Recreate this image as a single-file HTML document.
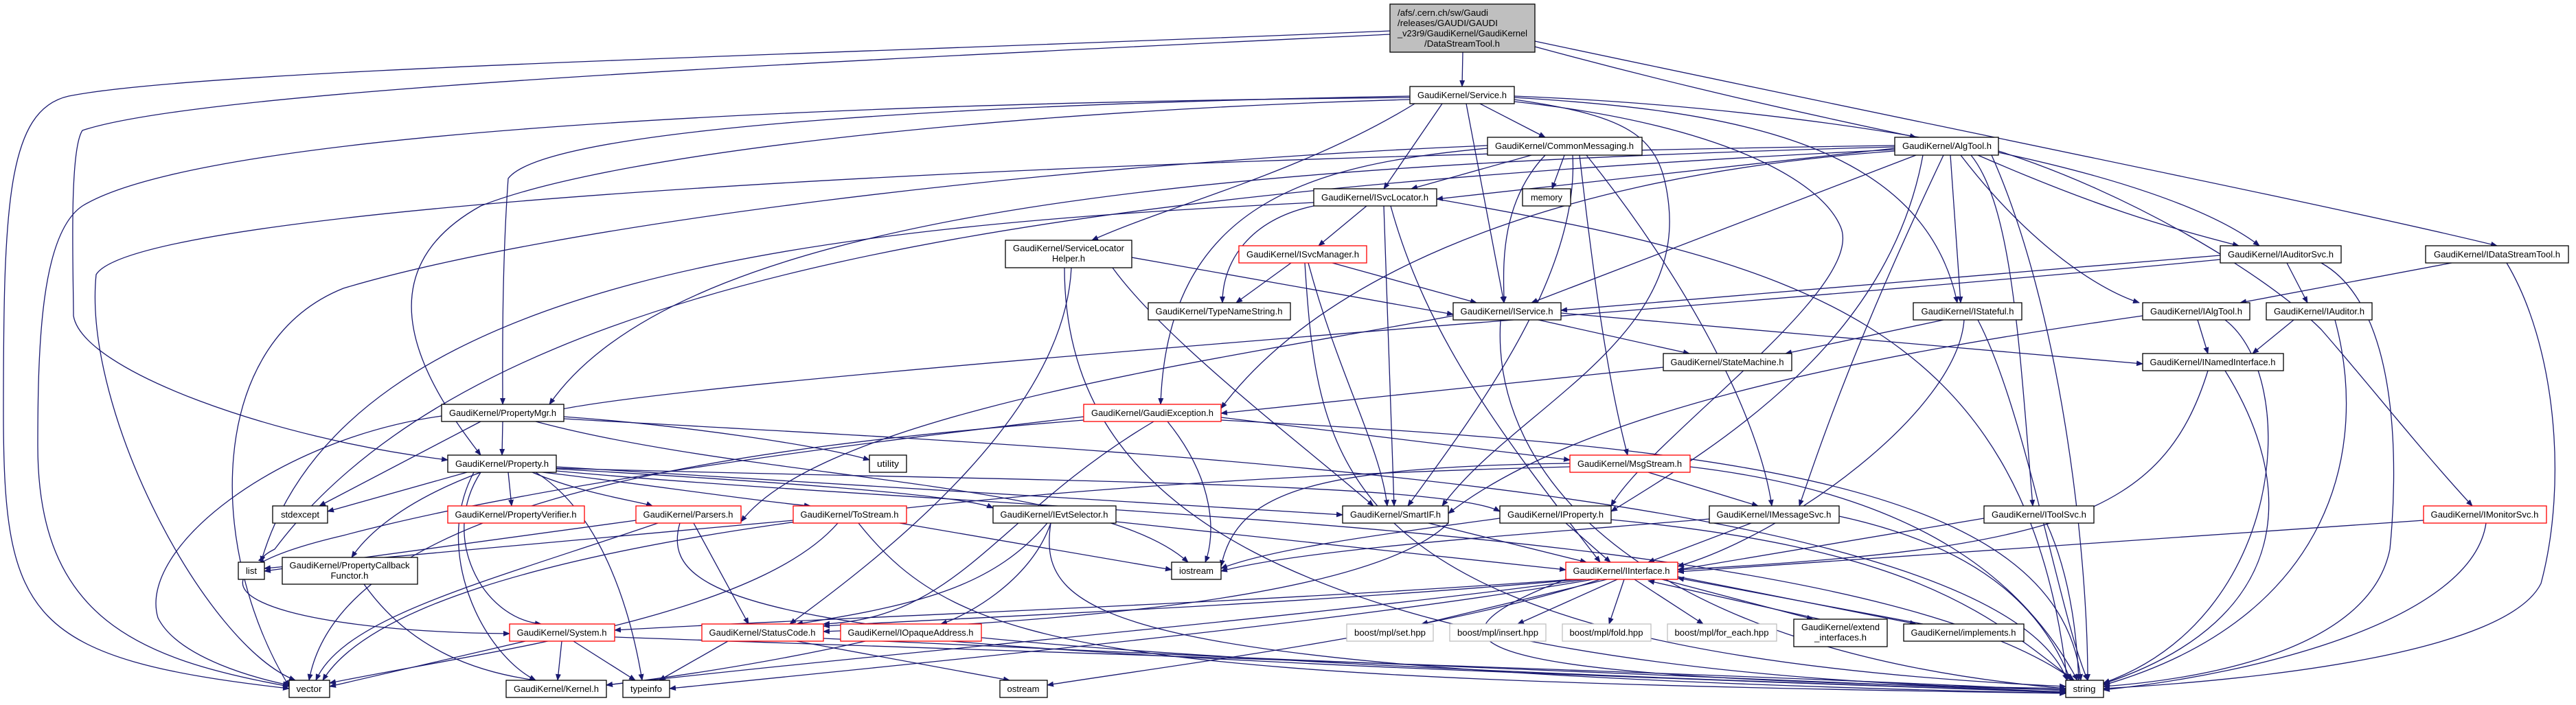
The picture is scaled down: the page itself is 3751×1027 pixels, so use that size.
<!DOCTYPE html>
<html><head><meta charset="utf-8"><style>
html,body{margin:0;padding:0;background:#fff;}
svg{display:block;}
text{font-family:"Liberation Sans",sans-serif;font-size:13px;fill:#000;}
.e{fill:none;stroke:#191970;stroke-width:1.3;}
.n{fill:#fff;stroke:#000;stroke-width:1.3;}
.r{fill:#fff;stroke:#ff0000;stroke-width:1.3;}
.g{fill:#fff;stroke:#bfbfbf;stroke-width:1.3;}
</style></head><body>
<svg width="3751" height="1027" viewBox="0 0 3751 1027" xmlns="http://www.w3.org/2000/svg">
<defs><marker id="a" markerWidth="10" markerHeight="8" refX="9" refY="4" orient="auto" markerUnits="userSpaceOnUse"><path d="M0,0 L10,4 L0,8 z" fill="#191970"/></marker></defs>
<g class="e" marker-end="url(#a)">
<path d="M2130,76 L2129,126"/>
<path d="M2235,60 C2800,180 3400,300 3636,358"/>
<path d="M2235,68 C2500,140 2700,180 2790,200"/>
<path d="M2024,45 C1200,80 300,100 100,140 C10,160 5,300 5,600 C5,900 40,960 421,1003"/>
<path d="M2024,50 C1200,90 300,130 120,190 C100,220 107,400 107,460 C120,540 400,640 652,670"/>
<path d="M2053,142 C1200,150 300,190 120,300 C60,340 55,500 55,650 C55,900 200,960 421,1000"/>
<path d="M2053,140 C1500,150 800,180 740,260 C730,400 732,550 732,589"/>
<path d="M2053,145 C1500,160 900,220 700,300 C520,400 620,560 700,663"/>
<path d="M2060,151 C1900,250 1700,300 1590,350"/>
<path d="M2100,151 L2015,275"/>
<path d="M2135,151 L2190,441"/>
<path d="M2155,151 L2250,200"/>
<path d="M2205,145 C2380,170 2420,200 2430,300 C2450,500 2200,600 2100,737"/>
<path d="M2205,148 C2500,180 2650,260 2680,330 C2720,420 2400,640 2346,737"/>
<path d="M2205,142 C2500,160 2800,200 2850,441"/>
<path d="M2205,140 C2700,160 3150,250 3290,358"/>
<path d="M2230,226 L2055,275"/>
<path d="M2278,226 L2260,275"/>
<path d="M2250,226 C2180,300 2190,400 2190,441"/>
<path d="M2290,226 C2300,400 2150,600 2050,737"/>
<path d="M2300,226 C2320,400 2340,550 2370,663"/>
<path d="M2310,226 C2450,400 2560,600 2580,737"/>
<path d="M2166,216 C1900,240 1700,300 1690,589"/>
<path d="M2166,212 C1500,240 800,330 500,420 C300,500 300,800 421,1000"/>
<path d="M2759,216 L2092,290"/>
<path d="M2790,226 L2230,441"/>
<path d="M2840,226 L2855,441"/>
<path d="M2855,226 C2950,350 3050,420 3115,441"/>
<path d="M2880,226 C3050,300 3150,330 3260,358"/>
<path d="M2910,220 C3100,280 3300,400 3380,480 C3450,560 3520,650 3600,737"/>
<path d="M2870,226 C2930,300 2940,500 2960,737"/>
<path d="M2830,226 C2700,500 2650,650 2620,737"/>
<path d="M2800,226 C2750,500 2500,650 2346,745"/>
<path d="M2759,214 C1800,240 1000,300 800,589"/>
<path d="M2759,220 C2200,260 1900,430 1778,595"/>
<path d="M2759,218 C1500,280 700,400 400,800 C380,810 380,815 385,820"/>
<path d="M2759,212 C1500,230 200,300 140,400 C120,600 300,940 430,991"/>
<path d="M2900,226 C3000,450 3040,800 3040,991"/>
<path d="M1990,300 L1920,358"/>
<path d="M1913,300 C1820,320 1780,380 1780,441"/>
<path d="M2015,300 L2030,737"/>
<path d="M2025,300 C2080,500 2200,650 2330,819"/>
<path d="M2092,290 C2600,380 2950,460 3010,991"/>
<path d="M1913,295 C1200,330 500,400 380,819"/>
<path d="M1880,383 L1800,441"/>
<path d="M1940,383 L2150,441"/>
<path d="M1905,383 C1950,550 2010,650 2020,737"/>
<path d="M1900,383 C1920,700 1950,950 3008,1000"/>
<path d="M1648,375 L2116,458"/>
<path d="M1620,390 C1700,500 1900,650 2000,737"/>
<path d="M1560,390 C1550,600 1300,800 1150,909"/>
<path d="M1550,390 C1550,700 1800,980 3008,1005"/>
<path d="M2273,456 L3120,530"/>
<path d="M2240,466 L2460,515"/>
<path d="M2185,466 C2170,700 2400,950 3008,1003"/>
<path d="M2116,460 C1800,520 1200,600 1079,760"/>
<path d="M3233,372 L2273,452"/>
<path d="M3330,383 L3360,441"/>
<path d="M3380,383 C3500,450 3490,700 3480,800 C3450,950 3200,990 3063,1000"/>
<path d="M3233,378 C2500,450 1000,550 800,600"/>
<path d="M3570,383 L3262,441"/>
<path d="M3650,383 C3720,500 3740,700 3700,850 C3650,950 3300,990 3063,1003"/>
<path d="M2830,466 L2600,515"/>
<path d="M2880,466 C2950,600 3000,900 3040,991"/>
<path d="M2860,466 C2850,600 2600,780 2443,825"/>
<path d="M3200,466 L3215,515"/>
<path d="M3240,466 C3350,550 3330,900 3063,995"/>
<path d="M3120,460 C2700,520 2300,600 2109,748"/>
<path d="M3340,466 L3280,515"/>
<path d="M3400,466 C3450,650 3400,900 3063,998"/>
<path d="M2422,535 L1778,602"/>
<path d="M3215,540 C3150,750 3000,800 2443,830"/>
<path d="M3240,540 C3340,700 3350,900 3063,996"/>
<path d="M732,614 L731,663"/>
<path d="M700,614 L465,737"/>
<path d="M821,607 C1000,620 1200,650 1266,670"/>
<path d="M643,606 C400,640 200,800 230,900 C260,960 380,990 421,998"/>
<path d="M780,614 C1100,700 1600,700 1730,819"/>
<path d="M821,610 C1500,650 2900,700 3010,991"/>
<path d="M1680,614 C1450,750 1400,900 1199,909"/>
<path d="M1700,614 C1770,700 1770,780 1755,819"/>
<path d="M1778,608 L2286,670"/>
<path d="M1578,607 C1300,640 800,700 500,780 C200,850 400,920 742,923"/>
<path d="M1578,612 C1100,650 500,720 450,991"/>
<path d="M1778,612 C2500,650 3000,700 3030,991"/>
<path d="M740,688 L745,737"/>
<path d="M680,688 L477,745"/>
<path d="M700,688 C560,740 520,800 512,812"/>
<path d="M775,688 C850,720 930,730 950,737"/>
<path d="M790,688 C900,700 1100,730 1180,737"/>
<path d="M810,683 C1100,700 1400,720 1446,740"/>
<path d="M810,680 L1955,750"/>
<path d="M810,682 C1400,700 2100,700 2184,745"/>
<path d="M700,688 C640,780 700,900 788,909"/>
<path d="M690,688 C630,800 700,950 780,991"/>
<path d="M780,688 C880,750 920,900 935,991"/>
<path d="M810,686 C1500,750 2700,760 3020,991"/>
<path d="M2400,688 L2560,737"/>
<path d="M2286,675 C1900,680 1800,720 1778,825"/>
<path d="M2461,680 C2800,720 2950,850 3025,991"/>
<path d="M2286,680 C1500,700 600,780 470,991"/>
<path d="M1010,762 L1090,909"/>
<path d="M926,758 L385,832"/>
<path d="M958,762 C700,850 500,900 460,991"/>
<path d="M990,762 C950,900 1200,950 3008,1008"/>
<path d="M1310,762 L1706,830"/>
<path d="M1155,758 L385,828"/>
<path d="M1220,762 C1100,900 700,950 480,995"/>
<path d="M1250,762 C1400,950 1600,990 3008,1010"/>
<path d="M1625,760 L2280,830"/>
<path d="M1525,762 C1450,850 1350,880 1160,909"/>
<path d="M1530,762 C1500,850 1400,900 1370,909"/>
<path d="M1530,762 C1510,900 1600,980 3008,1010"/>
<path d="M2080,762 L2310,819"/>
<path d="M2280,762 L2345,819"/>
<path d="M2550,762 L2400,819"/>
<path d="M2889,755 L2443,830"/>
<path d="M3529,758 L2443,833"/>
<path d="M2346,757 C2800,800 2900,900 3020,991"/>
<path d="M2184,755 C2000,780 1850,800 1778,828"/>
<path d="M2678,752 C2900,800 2980,900 3015,991"/>
<path d="M2489,756 C2200,780 1900,800 1778,832"/>
<path d="M2980,762 C3020,850 3025,950 3027,991"/>
<path d="M3620,762 C3600,900 3300,980 3063,1005"/>
<path d="M2109,762 C2020,850 1700,900 1199,920"/>
<path d="M2290,844 C1800,880 1200,900 895,918"/>
<path d="M2300,844 C1900,880 1400,900 1199,912"/>
<path d="M2310,844 C1900,900 1300,950 883,998"/>
<path d="M2320,844 C2000,900 1500,950 975,1003"/>
<path d="M2330,844 C2100,920 1700,970 1525,998"/>
<path d="M2340,844 L2070,909"/>
<path d="M2355,844 L2210,909"/>
<path d="M2365,844 L2343,909"/>
<path d="M2380,844 L2480,909"/>
<path d="M2420,844 L2640,902"/>
<path d="M2443,840 L2790,909"/>
<path d="M2280,844 C2000,950 2200,990 3008,1003"/>
<path d="M2650,902 L2400,846"/>
<path d="M2800,909 L2443,842"/>
<path d="M530,851 C600,950 700,980 780,991"/>
<path d="M818,934 L812,991"/>
<path d="M835,934 L925,991"/>
<path d="M765,934 L480,1000"/>
<path d="M895,928 C1500,950 2500,980 3008,1006"/>
<path d="M1060,934 L960,991"/>
<path d="M1160,934 L1470,991"/>
<path d="M1199,930 C1800,960 2600,990 3008,1008"/>
<path d="M1260,934 C1100,970 950,990 883,998"/>
<path d="M1385,934 C1800,970 2500,990 3008,1009"/>
</g>

<rect x="2024" y="6" width="211" height="70" fill="#bfbfbf" stroke="#000" stroke-width="1.3"/>
<text x="2035" y="23" textLength="132" lengthAdjust="spacingAndGlyphs">/afs/.cern.ch/sw/Gaudi</text>
<text x="2035" y="38" textLength="146" lengthAdjust="spacingAndGlyphs">/releases/GAUDI/GAUDI</text>
<text x="2035" y="53" textLength="189" lengthAdjust="spacingAndGlyphs">_v23r9/GaudiKernel/GaudiKernel</text>
<text x="2074" y="68" textLength="110" lengthAdjust="spacingAndGlyphs">/DataStreamTool.h</text>

<g text-anchor="middle">
<rect class="n" x="2053" y="126" width="152" height="25"/><text x="2129" y="143" textLength="130" lengthAdjust="spacingAndGlyphs">GaudiKernel/Service.h</text>
<rect class="n" x="2166" y="200" width="225" height="26"/><text x="2278" y="217" textLength="202" lengthAdjust="spacingAndGlyphs">GaudiKernel/CommonMessaging.h</text>
<rect class="n" x="2759" y="200" width="151" height="26"/><text x="2835" y="217" textLength="130" lengthAdjust="spacingAndGlyphs">GaudiKernel/AlgTool.h</text>
<rect class="n" x="1913" y="275" width="179" height="25"/><text x="2002" y="292" textLength="156" lengthAdjust="spacingAndGlyphs">GaudiKernel/ISvcLocator.h</text>
<rect class="n" x="2217" y="275" width="70" height="25"/><text x="2252" y="292" textLength="46" lengthAdjust="spacingAndGlyphs">memory</text>
<rect class="n" x="1464" y="350" width="184" height="40"/><text x="1556" y="366" textLength="162" lengthAdjust="spacingAndGlyphs">GaudiKernel/ServiceLocator</text><text x="1556" y="381" textLength="48" lengthAdjust="spacingAndGlyphs">Helper.h</text>
<rect class="r" x="1804" y="358" width="186" height="25"/><text x="1897" y="375" textLength="164" lengthAdjust="spacingAndGlyphs">GaudiKernel/ISvcManager.h</text>
<rect class="n" x="3233" y="358" width="176" height="25"/><text x="3321" y="375" textLength="154" lengthAdjust="spacingAndGlyphs">GaudiKernel/IAuditorSvc.h</text>
<rect class="n" x="3532" y="358" width="208" height="25"/><text x="3636" y="375" textLength="184" lengthAdjust="spacingAndGlyphs">GaudiKernel/IDataStreamTool.h</text>
<rect class="n" x="1672" y="441" width="207" height="25"/><text x="1775" y="458" textLength="185" lengthAdjust="spacingAndGlyphs">GaudiKernel/TypeNameString.h</text>
<rect class="n" x="2116" y="441" width="157" height="25"/><text x="2194" y="458" textLength="135" lengthAdjust="spacingAndGlyphs">GaudiKernel/IService.h</text>
<rect class="n" x="2786" y="441" width="158" height="25"/><text x="2865" y="458" textLength="135" lengthAdjust="spacingAndGlyphs">GaudiKernel/IStateful.h</text>
<rect class="n" x="3120" y="441" width="156" height="25"/><text x="3198" y="458" textLength="134" lengthAdjust="spacingAndGlyphs">GaudiKernel/IAlgTool.h</text>
<rect class="n" x="3300" y="441" width="154" height="25"/><text x="3377" y="458" textLength="132" lengthAdjust="spacingAndGlyphs">GaudiKernel/IAuditor.h</text>
<rect class="n" x="2422" y="515" width="187" height="25"/><text x="2515" y="532" textLength="165" lengthAdjust="spacingAndGlyphs">GaudiKernel/StateMachine.h</text>
<rect class="n" x="3120" y="515" width="205" height="25"/><text x="3222" y="532" textLength="183" lengthAdjust="spacingAndGlyphs">GaudiKernel/INamedInterface.h</text>
<rect class="n" x="643" y="589" width="178" height="25"/><text x="732" y="606" textLength="156" lengthAdjust="spacingAndGlyphs">GaudiKernel/PropertyMgr.h</text>
<rect class="r" x="1578" y="589" width="200" height="25"/><text x="1678" y="606" textLength="178" lengthAdjust="spacingAndGlyphs">GaudiKernel/GaudiException.h</text>
<rect class="n" x="652" y="663" width="158" height="25"/><text x="731" y="680" textLength="136" lengthAdjust="spacingAndGlyphs">GaudiKernel/Property.h</text>
<rect class="n" x="1266" y="663" width="54" height="25"/><text x="1293" y="680" textLength="32" lengthAdjust="spacingAndGlyphs">utility</text>
<rect class="r" x="2286" y="663" width="175" height="25"/><text x="2373" y="680" textLength="152" lengthAdjust="spacingAndGlyphs">GaudiKernel/MsgStream.h</text>
<rect class="n" x="397" y="737" width="80" height="25"/><text x="437" y="754" textLength="56" lengthAdjust="spacingAndGlyphs">stdexcept</text>
<rect class="r" x="652" y="737" width="199" height="25"/><text x="751" y="754" textLength="177" lengthAdjust="spacingAndGlyphs">GaudiKernel/PropertyVerifier.h</text>
<rect class="r" x="926" y="737" width="153" height="25"/><text x="1002" y="754" textLength="131" lengthAdjust="spacingAndGlyphs">GaudiKernel/Parsers.h</text>
<rect class="r" x="1155" y="737" width="165" height="25"/><text x="1237" y="754" textLength="143" lengthAdjust="spacingAndGlyphs">GaudiKernel/ToStream.h</text>
<rect class="n" x="1446" y="737" width="179" height="25"/><text x="1535" y="754" textLength="157" lengthAdjust="spacingAndGlyphs">GaudiKernel/IEvtSelector.h</text>
<rect class="n" x="1955" y="737" width="154" height="25"/><text x="2032" y="754" textLength="132" lengthAdjust="spacingAndGlyphs">GaudiKernel/SmartIF.h</text>
<rect class="n" x="2184" y="737" width="162" height="25"/><text x="2265" y="754" textLength="140" lengthAdjust="spacingAndGlyphs">GaudiKernel/IProperty.h</text>
<rect class="n" x="2489" y="737" width="189" height="25"/><text x="2583" y="754" textLength="167" lengthAdjust="spacingAndGlyphs">GaudiKernel/IMessageSvc.h</text>
<rect class="n" x="2889" y="737" width="160" height="25"/><text x="2969" y="754" textLength="138" lengthAdjust="spacingAndGlyphs">GaudiKernel/IToolSvc.h</text>
<rect class="r" x="3529" y="737" width="179" height="25"/><text x="3618" y="754" textLength="157" lengthAdjust="spacingAndGlyphs">GaudiKernel/IMonitorSvc.h</text>
<rect class="n" x="347" y="819" width="38" height="25"/><text x="366" y="836" textLength="16" lengthAdjust="spacingAndGlyphs">list</text>
<rect class="n" x="411" y="812" width="197" height="39"/><text x="509" y="828" textLength="175" lengthAdjust="spacingAndGlyphs">GaudiKernel/PropertyCallback</text><text x="509" y="843" textLength="55" lengthAdjust="spacingAndGlyphs">Functor.h</text>
<rect class="n" x="1706" y="819" width="72" height="25"/><text x="1742" y="836" textLength="50" lengthAdjust="spacingAndGlyphs">iostream</text>
<rect class="r" x="2280" y="819" width="163" height="25"/><text x="2361" y="836" textLength="141" lengthAdjust="spacingAndGlyphs">GaudiKernel/IInterface.h</text>
<rect class="r" x="742" y="909" width="153" height="25"/><text x="818" y="926" textLength="131" lengthAdjust="spacingAndGlyphs">GaudiKernel/System.h</text>
<rect class="r" x="1022" y="909" width="177" height="25"/><text x="1110" y="926" textLength="155" lengthAdjust="spacingAndGlyphs">GaudiKernel/StatusCode.h</text>
<rect class="r" x="1224" y="909" width="205" height="25"/><text x="1326" y="926" textLength="183" lengthAdjust="spacingAndGlyphs">GaudiKernel/IOpaqueAddress.h</text>
<rect class="g" x="1961" y="909" width="126" height="25"/><text x="2024" y="926" textLength="104" lengthAdjust="spacingAndGlyphs">boost/mpl/set.hpp</text>
<rect class="g" x="2111" y="909" width="140" height="25"/><text x="2181" y="926" textLength="118" lengthAdjust="spacingAndGlyphs">boost/mpl/insert.hpp</text>
<rect class="g" x="2275" y="909" width="129" height="25"/><text x="2339" y="926" textLength="107" lengthAdjust="spacingAndGlyphs">boost/mpl/fold.hpp</text>
<rect class="g" x="2428" y="909" width="159" height="25"/><text x="2507" y="926" textLength="137" lengthAdjust="spacingAndGlyphs">boost/mpl/for_each.hpp</text>
<rect class="n" x="2612" y="902" width="136" height="40"/><text x="2680" y="918" textLength="114" lengthAdjust="spacingAndGlyphs">GaudiKernel/extend</text><text x="2680" y="933" textLength="76" lengthAdjust="spacingAndGlyphs">_interfaces.h</text>
<rect class="n" x="2772" y="909" width="175" height="25"/><text x="2859" y="926" textLength="153" lengthAdjust="spacingAndGlyphs">GaudiKernel/implements.h</text>
<rect class="n" x="421" y="991" width="59" height="25"/><text x="450" y="1008" textLength="37" lengthAdjust="spacingAndGlyphs">vector</text>
<rect class="n" x="737" y="991" width="146" height="25"/><text x="810" y="1008" textLength="124" lengthAdjust="spacingAndGlyphs">GaudiKernel/Kernel.h</text>
<rect class="n" x="907" y="991" width="68" height="25"/><text x="941" y="1008" textLength="46" lengthAdjust="spacingAndGlyphs">typeinfo</text>
<rect class="n" x="1456" y="991" width="69" height="25"/><text x="1490" y="1008" textLength="47" lengthAdjust="spacingAndGlyphs">ostream</text>
<rect class="n" x="3008" y="991" width="55" height="25"/><text x="3035" y="1008" textLength="33" lengthAdjust="spacingAndGlyphs">string</text>
</g>
</svg>
</body></html>
